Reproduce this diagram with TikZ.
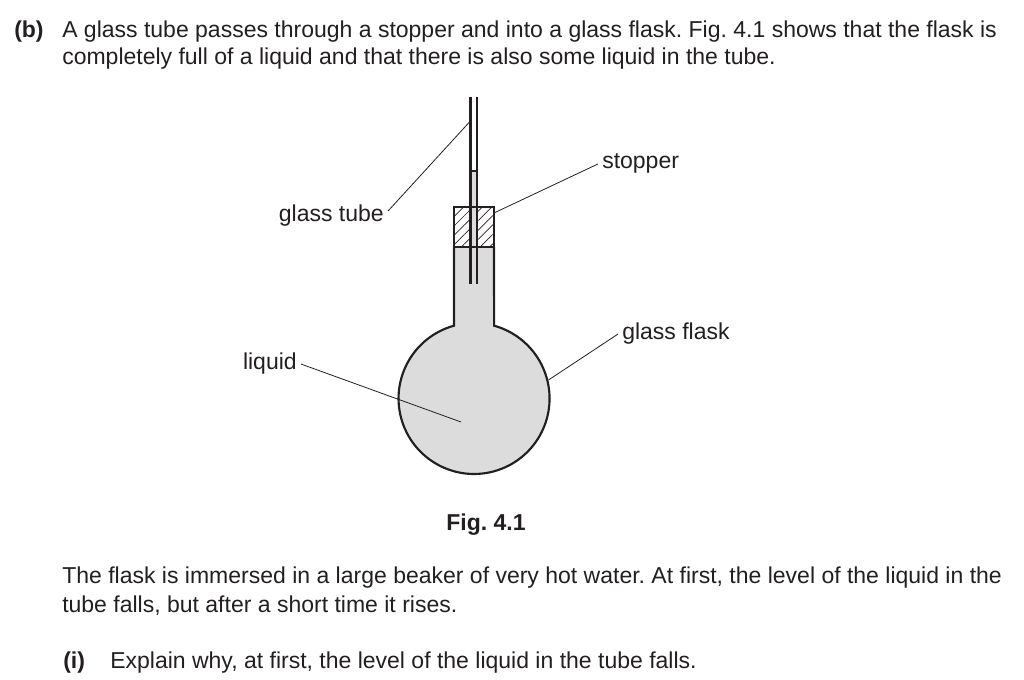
\documentclass[tikz,border=0pt]{standalone}
\usepackage{fontspec}
\setmainfont{Liberation Sans}
\usetikzlibrary{patterns.meta,positioning}
\definecolor{ink}{RGB}{35,31,32}
\definecolor{liquidgrey}{RGB}{220,220,220}
\frenchspacing

\begin{document}
\begin{tikzpicture}[x=0.75pt,y=-0.75pt,color=ink,
                    txt/.style={inner sep=0pt,anchor=base west,font=\fontsize{17.25}{21}\selectfont},
                    lbl/.style={inner sep=3pt,font=\fontsize{17.25}{21}\selectfont},
                    leader/.style={line width=0.6pt},
                    wall/.style={line width=1.6pt},
                    hatch/.style={pattern={Lines[angle=45,distance=5pt,line width=0.5pt]},pattern color=ink}]
    \useasboundingbox (0,0) rectangle (1024,680);
    % question text
    \node [txt] (partb) at (14,38) {\bfseries (b)};
    \node [txt] (line1) at (62,38) {A glass tube passes through a stopper and into a glass flask. Fig. 4.1 shows that the flask is};
    \node [txt] (line2) at (62,65) {completely full of a liquid and that there is also some liquid in the tube.};
    \node [txt,anchor=base] (caption) at (486,530) {\bfseries Fig. 4.1};
    \node [txt] (line3) at (62,583) {The flask is immersed in a large beaker of very hot water. At first, the level of the liquid in the};
    \node [txt] (line4) at (62,612) {tube falls, but after a short time it rises.};
    \node [txt] (parti) at (63,668) {\bfseries (i)};
    \node [txt] (line5) at (110,668) {Explain why, at first, the level of the liquid in the tube falls.};
    % flask and liquid
    \fill [liquidgrey] (454,247) -- (454,325.7) arc[start angle=254.6,end angle=-74.6,radius=75.5]
        -- (494,247) -- cycle;
    \fill [liquidgrey] (470.5,171) rectangle (477,247);
    \path [hatch] (454,207) rectangle (470.5,247);
    \path [hatch] (477,207) rectangle (494,247);
    \draw [line width=0.9pt] (454,207) rectangle (494,247);
    \draw [wall] (454,247) -- (454,325.7) arc[start angle=254.6,end angle=-74.6,radius=75.5]
        -- (494,247);
    % glass tube
    \draw [wall] (470.5,97) -- (470.5,284);
    \draw [wall] (477,97) -- (477,284);
    \draw [wall] (470.5,171) -- (477,171);
    % labels
    \coordinate (tubept)    at (469.5,122);
    \coordinate (stopperpt) at (494,213);
    \coordinate (liquidpt)  at (461,422);
    \coordinate (flaskpt)   at (548.5,380);
    \node [lbl,anchor=base east] (tubelbl)    at (388,222) {glass tube};
    \node [lbl,anchor=base west] (stopperlbl) at (598,169) {stopper};
    \node [lbl,anchor=base east] (liquidlbl)  at (301,370) {liquid};
    \node [lbl,anchor=base west] (flasklbl)   at (618,340) {glass flask};
    \draw [leader] (tubelbl.east) ++(0,-5) -- (tubept);
    \draw [leader] (stopperlbl.west) -- (stopperpt);
    \draw [leader] (liquidlbl.east) -- (liquidpt);
    \draw [leader] (flasklbl.west) -- (flaskpt);
\end{tikzpicture}
\end{document}
